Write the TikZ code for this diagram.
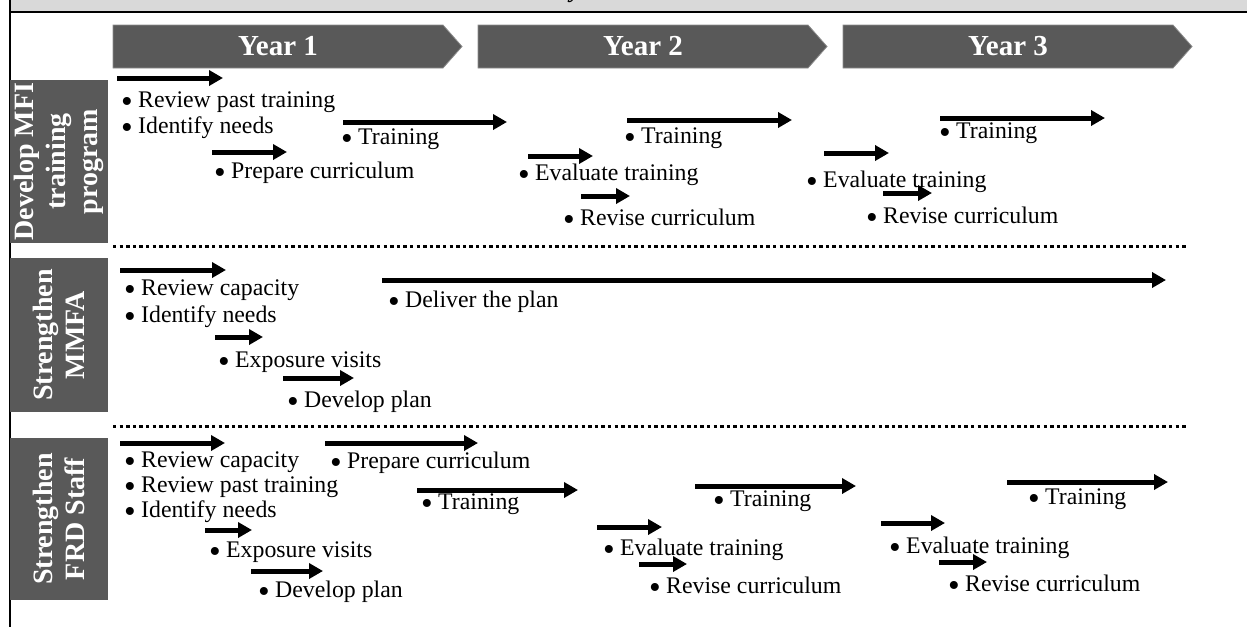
\documentclass[tikz,border=0pt]{standalone}
\usepackage{fontspec}
\usepackage{graphicx}
\setmainfont{Liberation Serif}
\usetikzlibrary{arrows.meta}

\definecolor{chev}{HTML}{595959}
\definecolor{chevedge}{HTML}{8C8C8C}
\definecolor{headgray}{HTML}{D9D9D9}

% bullet with hanging indent
\newcommand\bul{\makebox[17pt][l]{\smash{\raisebox{-0.24em}{\scalebox{1.4}{\textbullet}}}}}
% timeline bar between two named coordinates
\newcommand\timebar[4]{%
  \coordinate (#1s) at (#2,#4);
  \coordinate (#1e) at (#3,#4);
  \draw[bar] (#1s) -- (#1e);}
% year banner: name, left x, label
\newcommand\yearbanner[3]{%
  \fill[yearbox] (#2,25) -- ++(330,0) -- ++(19,21.5) -- ++(-19,21.5) -- ++(-330,0) -- cycle;
  \node[yeartext] (#1) at (#2+165,46.5) {#3};}

\tikzset{
  yearbox/.style={fill=chev, draw=chevedge, line width=0.8pt},
  yeartext/.style={text=white, font=\fontsize{29}{31}\selectfont\bfseries, inner sep=0pt},
  rowbox/.style={fill=chev, text=white, rotate=90, inner sep=0pt, align=center,
    minimum height=98pt, font=\fontsize{28}{32}\selectfont\bfseries},
  item/.style={anchor=base west, inner sep=0pt, text height=0.72em, text depth=0.22em,
    font=\fontsize{23.8}{26}\selectfont},
  bar/.style={line width=5pt, -{Triangle[length=14pt,width=15pt]}},
  sepline/.style={line width=3pt, dash pattern=on 3.3pt off 3.3pt},
}

\begin{document}
\begin{tikzpicture}[x=1pt,y=-1pt]
\useasboundingbox (0,0) rectangle (1247,627);

% header strip and frame
\fill[headgray] (10,0) rectangle (1247,12);
\node[anchor=base west, inner sep=0pt, font=\fontsize{24}{26}\selectfont\bfseries\itshape] (title) at (570,-2.5) {y};
\coordinate (hl) at (10,12); \coordinate (hr) at (1247,12);
\draw[line width=2pt] (hl) -- (hr);
\coordinate (vt) at (10,0); \coordinate (vb) at (10,627);
\draw[line width=2pt] (vt) -- (vb);

% year banners
\yearbanner{y1}{113}{Year 1}
\yearbanner{y2}{478}{Year 2}
\yearbanner{y3}{843}{Year 3}

% row labels
\node[rowbox, minimum width=163pt] (r1) at (59,161.5) {Develop MFI\\training\\program};
\node[rowbox, minimum width=154pt] (r2) at (59,335) {Strengthen\\MMFA};
\node[rowbox, minimum width=162pt] (r3) at (59,519) {Strengthen\\FRD Staff};

% separators
\coordinate (s1a) at (113,246); \coordinate (s1b) at (1187,246);
\draw[sepline] (s1a) -- (s1b);
\coordinate (s2a) at (113,426); \coordinate (s2b) at (1187,426);
\draw[sepline] (s2a) -- (s2b);

% ---- Develop MFI training program
\timebar{a1}{117}{223}{78}
\node[item] (a1t) at (121,107) {\bul Review past training};
\node[item] (a1u) at (121,133) {\bul Identify needs};
\timebar{a2}{212}{287}{152}
\node[item] (a2t) at (214,178) {\bul Prepare curriculum};
\timebar{a3}{343}{507}{122}
\node[item] (a3t) at (341,144) {\bul Training};
\timebar{a4}{528}{593}{156}
\node[item] (a4t) at (518,180) {\bul Evaluate training};
\timebar{a5}{581}{630}{196}
\node[item] (a5t) at (563,225) {\bul Revise curriculum};
\timebar{a6}{627}{792}{120}
\node[item] (a6t) at (624,143) {\bul Training};
\timebar{a7}{824}{889}{153}
\node[item] (a7t) at (806,187) {\bul Evaluate training};
\timebar{a8}{883}{932}{193}
\node[item] (a8t) at (866,223) {\bul Revise curriculum};
\timebar{a9}{940}{1105}{118}
\node[item] (a9t) at (939,138) {\bul Training};

% ---- Strengthen MMFA
\timebar{b1}{120}{226}{270}
\node[item] (b1t) at (124,295) {\bul Review capacity};
\node[item] (b1u) at (124,322) {\bul Identify needs};
\timebar{b2}{215}{263}{337}
\node[item] (b2t) at (218,367) {\bul Exposure visits};
\timebar{b3}{283}{354}{378}
\node[item] (b3t) at (287,407) {\bul Develop plan};
\timebar{b4}{382}{1166}{280}
\node[item] (b4t) at (388,307) {\bul Deliver the plan};

% ---- Strengthen FRD Staff
\timebar{c1}{120}{225}{443}
\node[item] (c1t) at (124,467) {\bul Review capacity};
\node[item] (c1u) at (124,492) {\bul Review past training};
\node[item] (c1v) at (124,517) {\bul Identify needs};
\timebar{c2}{205}{252}{530}
\node[item] (c2t) at (209,557) {\bul Exposure visits};
\timebar{c3}{251}{323}{571}
\node[item] (c3t) at (258,597) {\bul Develop plan};
\timebar{c4}{325}{478}{443}
\node[item] (c4t) at (330,468) {\bul Prepare curriculum};
\timebar{c5}{417}{578}{490}
\node[item] (c5t) at (421,509) {\bul Training};
\timebar{c6}{597}{662}{527}
\node[item] (c6t) at (603,555) {\bul Evaluate training};
\timebar{c7}{639}{687}{564}
\node[item] (c7t) at (649,593) {\bul Revise curriculum};
\timebar{c8}{695}{856}{486}
\node[item] (c8t) at (713,506) {\bul Training};
\timebar{c9}{881}{945}{523}
\node[item] (c9t) at (889,553) {\bul Evaluate training};
\timebar{c10}{939}{987}{562}
\node[item] (c10t) at (948,591) {\bul Revise curriculum};
\timebar{c11}{1007}{1168}{482}
\node[item] (c11t) at (1028,504) {\bul Training};

\end{tikzpicture}
\end{document}
